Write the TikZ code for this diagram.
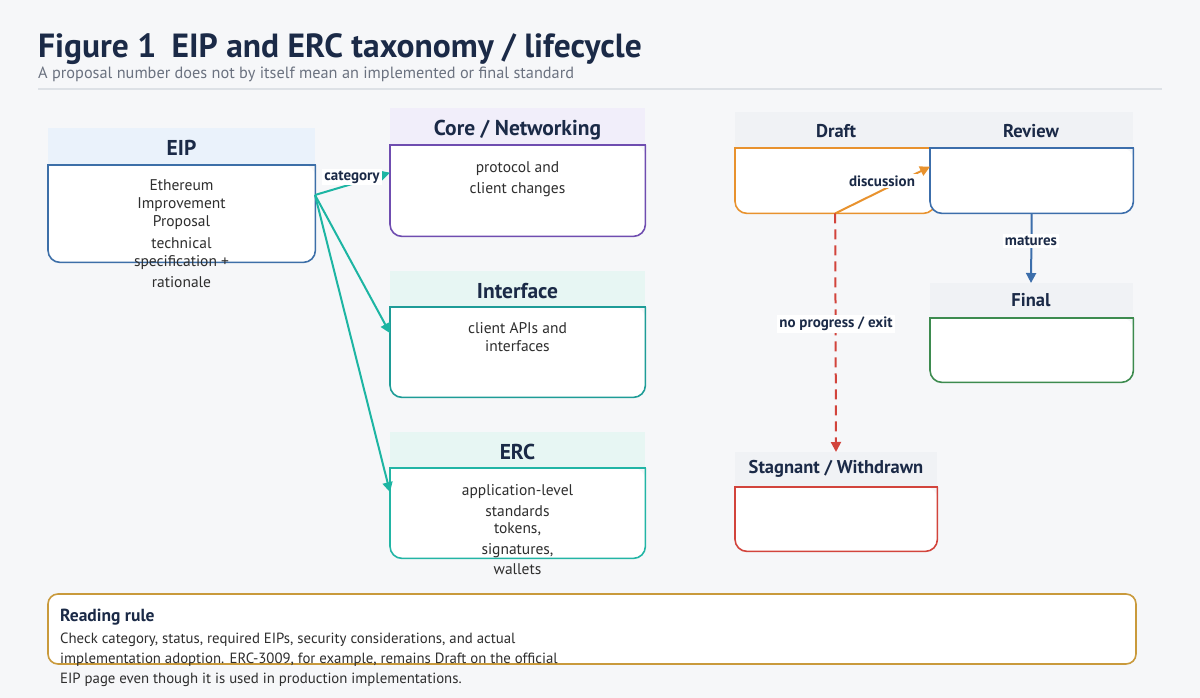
\documentclass[tikz,border=0pt]{standalone}
\usepackage{fontspec}
\setmainfont{PT Sans}
\usetikzlibrary{arrows.meta}
\definecolor{bgc}{HTML}{F6F7F9}
\definecolor{navy}{HTML}{1B2A47}
\definecolor{subg}{HTML}{6B7280}
\definecolor{rulec}{HTML}{DDE1E6}
\definecolor{bodyt}{HTML}{2E2E2E}
\definecolor{eipc}{HTML}{3D6FA8}
\definecolor{eiph}{HTML}{EAF2FB}
\definecolor{corec}{HTML}{6F4DB0}
\definecolor{coreh}{HTML}{F1EEFA}
\definecolor{intc}{HTML}{1E9C97}
\definecolor{erch}{HTML}{E7F6F3}
\definecolor{ercc}{HTML}{22B5A5}
\definecolor{arrc}{HTML}{1DB5A3}
\definecolor{draftc}{HTML}{E8922E}
\definecolor{revc}{HTML}{3C6EAB}
\definecolor{finc}{HTML}{3D8B4F}
\definecolor{stgc}{HTML}{D2443C}
\definecolor{sth}{HTML}{F0F2F5}
\definecolor{rrc}{HTML}{C99A3C}
\tikzset{
  hdr/.style={draw=none, inner sep=0pt, anchor=north west},
  bodybox/.style={draw=none, inner sep=0pt, anchor=north west},
  htitle/.style={font=\bfseries\fontsize{21.5}{25}\selectfont, text=navy},
  stitle/.style={font=\bfseries\fontsize{18.5}{22}\selectfont, text=navy},
  btext/.style={font=\fontsize{15.5}{18}\selectfont, text=bodyt, align=center},
  elabel/.style={font=\bfseries\fontsize{15}{18}\selectfont, text=navy, fill=white, inner sep=2pt},
  conn/.style={line width=2pt, -{Triangle[length=10pt,width=10pt]}},
}
\newcommand{\bodyoutline}[2]{%
  \fill[white] (#1.north west) [rounded corners=12pt] -- (#1.south west) -- (#1.south east) -- (#1.north east) [sharp corners] -- cycle;
  \draw[line width=1.6pt, draw=#2, rounded corners=12pt] (#1.north west) -- (#1.south west) -- (#1.south east) -- (#1.north east);
  \draw[line width=1.6pt, draw=#2, line cap=rect] (#1.north west) -- (#1.north east);}
\begin{document}
\begin{tikzpicture}[x=1pt,y=-1pt]
\fill[bgc] (0,0) rectangle (1200,698);
\useasboundingbox (0,0) rectangle (1200,698);

% title
\node[anchor=base west, inner sep=0pt, font=\bfseries\fontsize{33.5}{38}\selectfont, text=navy] (title) at (38,58) {Figure 1\hspace{0.2em} EIP and ERC taxonomy / lifecycle};
\node[anchor=base west, inner sep=0pt, font=\fontsize{16.3}{19}\selectfont, text=subg] (subtitle) at (38,79) {A proposal number does not by itself mean an implemented or final standard};
\draw[rulec, line width=1.2pt] (38,89) -- (1162,89);

% EIP
\fill[eiph] (48,128) rectangle (315,165);
\node[htitle] (eipt) at (181.5,148) {EIP};
\node[bodybox, minimum width=267pt, minimum height=97pt] (eip) at (48,165) {};
\bodyoutline{eip}{eipc}
\node[btext, anchor=north] (eiptext) at (181.5,176) {Ethereum\\Improvement\\Proposal\\[4pt]technical\\specification +\\[3pt]rationale};

% Core
\fill[coreh] (390,108) rectangle (645,145);
\node[htitle] (coret) at (517.5,130) {Core / Networking};
\node[bodybox, minimum width=255pt, minimum height=91pt] (core) at (390,145) {};
\bodyoutline{core}{corec}
\node[btext, anchor=north] (coretext) at (517.5,158) {protocol and\\[3pt]client changes};

% Interface
\fill[erch] (390,271) rectangle (645,307);
\node[htitle] (intt) at (517.5,291) {Interface};
\node[bodybox, minimum width=255pt, minimum height=90pt] (intf) at (390,307) {};
\bodyoutline{intf}{intc}
\node[btext, anchor=north] (inttext) at (517.5,319) {client APIs and\\interfaces};

% ERC
\fill[erch] (390,432) rectangle (645,468);
\node[htitle] (erct) at (517.5,452) {ERC};
\node[bodybox, minimum width=255pt, minimum height=90pt] (erc) at (390,468) {};
\bodyoutline{erc}{ercc}
\node[btext, anchor=north] (erctext) at (517.5,481) {application-level\\[3pt]standards\\[-1pt]tokens,\\[3pt]signatures,\\[2pt]wallets};

% EIP arrows
\coordinate (eipout) at (315,195);
\draw[conn, arrc] (eipout) -- ([yshift=18pt]core.west);
\node[elabel] (catlbl) at (352,177) {category};
\draw[conn, arrc] (eipout) -- ([yshift=19pt]intf.west);
\draw[conn, arrc] (eipout) -- ([yshift=21pt]erc.west);

% status header band
\fill[sth] (735,112) rectangle (1133,148);
\node[stitle] (draftt) at (836,131) {Draft};
\node[stitle] (revt) at (1031,131) {Review};
\node[bodybox, minimum width=200pt, minimum height=65pt] (draft) at (735,148) {};
\bodyoutline{draft}{draftc}
\node[bodybox, minimum width=203pt, minimum height=65pt] (review) at (930,148) {};
\bodyoutline{review}{revc}

% Final
\fill[sth] (930,283) rectangle (1133,318);
\node[stitle] (finalt) at (1031,300) {Final};
\node[bodybox, minimum width=203pt, minimum height=64pt] (final) at (930,318) {};
\bodyoutline{final}{finc}

% Stagnant
\fill[sth] (735,452) rectangle (937,487);
\node[stitle] (stgt) at (836,469) {Stagnant / Withdrawn};
\node[bodybox, minimum width=202pt, minimum height=64pt] (stag) at (735,487) {};
\bodyoutline{stag}{stgc}

% status arrows
\draw[conn, draftc] (draft.south) -- ([yshift=14pt]review.west);
\node[elabel] (disc) at (882,181) {discussion};
\draw[conn, revc] (review.south) -- (1031,283);
\node[elabel] (mat) at (1031,241) {matures};
\draw[conn, stgc, dash pattern=on 10pt off 6pt] (draft.south) -- (836,452);
\node[elabel] (nop) at (836,324) {no progress / exit};

% reading rule
\draw[rrc, line width=1.6pt, fill=white, rounded corners=10pt] (48,594) rectangle (1136,664);
\node[anchor=base west, inner sep=0pt, font=\bfseries\fontsize{17.5}{20}\selectfont, text=navy] (rrt) at (60,621) {Reading rule};
\node[anchor=north west, inner sep=0pt, align=left, font=\fontsize{14.8}{20}\selectfont, text=bodyt] (rrb) at (60,633) {Check category, status, required EIPs, security considerations, and actual\\implementation adoption. ERC-3009, for example, remains Draft on the official\\EIP page even though it is used in production implementations.};
\end{tikzpicture}
\end{document}
